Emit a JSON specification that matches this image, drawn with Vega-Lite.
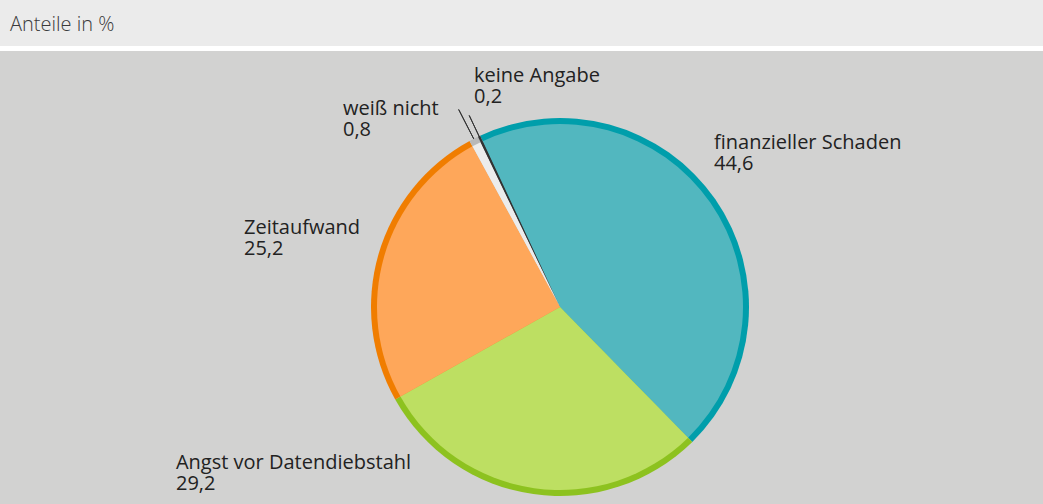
{
  "$schema": "https://vega.github.io/schema/vega-lite/v6.json",
  "background": "white",
  "padding": 0,
  "spacing": 5,
  "config": {"view": {"stroke": null}, "font": "Open Sans"},
  "datasets": {
    "anteile": [
      {"Nr": 1, "Kategorie": "finanzieller Schaden", "Anteil": 44.6, "Beschriftung": "finanzieller Schaden\n44,6"},
      {"Nr": 2, "Kategorie": "Angst vor Datendiebstahl", "Anteil": 29.2, "Beschriftung": "Angst vor Datendiebstahl\n29,2"},
      {"Nr": 3, "Kategorie": "Zeitaufwand", "Anteil": 25.2, "Beschriftung": "Zeitaufwand\n25,2"},
      {"Nr": 4, "Kategorie": "weiß nicht", "Anteil": 0.8, "Beschriftung": "weiß nicht\n0,8"},
      {"Nr": 5, "Kategorie": "keine Angabe", "Anteil": 0.2, "Beschriftung": "keine Angabe\n0,2"}
    ]
  },
  "vconcat": [
    {
      "width": 1043,
      "height": 46,
      "view": {"fill": "#ebebeb", "stroke": null},
      "title": {"text": "Anteile in %", "anchor": "start", "orient": "top", "offset": -51, "dx": 10, "baseline": "alphabetic", "fontSize": 20, "fontWeight": 300, "color": "#3a3a3a", "font": "Open Sans"},
      "data": {"values": [{}]},
      "mark": {"type": "text"},
      "encoding": {"text": {"value": ""}}
    },
    {
      "width": 1043,
      "height": 453,
      "view": {"fill": "#d2d2d1", "stroke": null},
      "data": {"name": "anteile"},
      "encoding": {
        "theta": {"field": "Anteil", "type": "quantitative", "stack": true, "scale": {"range": [-0.4363, 5.8469]}},
        "order": {"field": "Nr", "type": "quantitative"}
      },
      "layer": [
        {
          "mark": {"type": "arc", "radius": 189, "x": 560, "y": 256},
          "encoding": {
            "fill": {"field": "Kategorie", "type": "nominal", "legend": null,
              "scale": {"domain": ["finanzieller Schaden", "Angst vor Datendiebstahl", "Zeitaufwand", "weiß nicht", "keine Angabe"],
                        "range": ["#009eab", "#8dc21f", "#f07d00", "#b9b9b9", "#333333"]}}
          }
        },
        {
          "mark": {"type": "arc", "radius": 183, "x": 560, "y": 256},
          "encoding": {
            "color": {"field": "Kategorie", "type": "nominal", "legend": null,
              "scale": {"domain": ["finanzieller Schaden", "Angst vor Datendiebstahl", "Zeitaufwand", "weiß nicht", "keine Angabe"],
                        "range": ["#52b7bf", "#bddf62", "#fea75a", "#ececec", "#333333"]}}
          }
        },
        {
          "mark": {"type": "arc", "radius": 222, "radius2": 189, "padAngle": 0.3, "fill": null, "stroke": "#333333", "strokeWidth": 1, "x": 560, "y": 256},
          "encoding": {
            "strokeOpacity": {"condition": {"test": "datum.Kategorie === 'weiß nicht'", "value": 1}, "value": 0}
          }
        },
        {
          "mark": {"type": "arc", "radius": 212, "radius2": 188, "padAngle": 0.3, "fill": null, "stroke": "#333333", "strokeWidth": 1, "x": 560, "y": 256},
          "encoding": {
            "strokeOpacity": {"condition": {"test": "datum.Kategorie === 'keine Angabe'", "value": 1}, "value": 0}
          }
        },
        {
          "transform": [
            {"stack": "Anteil", "groupby": [], "sort": [{"field": "Nr", "order": "ascending"}], "as": ["Anfang", "Ende"]},
            {"filter": "datum.Kategorie === 'finanzieller Schaden'"}
          ],
          "mark": {"type": "text", "radius": 205, "dx": 240.6, "dy": 27.8, "align": "left", "baseline": "alphabetic", "lineBreak": "\n", "lineHeight": 21, "fontSize": 20, "color": "#222222", "x": 560, "y": 256},
          "encoding": {"theta": {"field": "Anfang", "type": "quantitative", "stack": null}, "text": {"field": "Beschriftung"}}
        },
        {
          "transform": [
            {"stack": "Anteil", "groupby": [], "sort": [{"field": "Nr", "order": "ascending"}], "as": ["Anfang", "Ende"]},
            {"filter": "datum.Kategorie === 'Angst vor Datendiebstahl'"}
          ],
          "mark": {"type": "text", "radius": 205, "dx": -205.3, "dy": 61.6, "align": "left", "baseline": "alphabetic", "lineBreak": "\n", "lineHeight": 21, "fontSize": 20, "color": "#222222", "x": 560, "y": 256},
          "encoding": {"theta": {"field": "Ende", "type": "quantitative", "stack": null}, "text": {"field": "Beschriftung"}}
        },
        {
          "transform": [
            {"stack": "Anteil", "groupby": [], "sort": [{"field": "Nr", "order": "ascending"}], "as": ["Anfang", "Ende"]},
            {"filter": "datum.Kategorie === 'Zeitaufwand'"}
          ],
          "mark": {"type": "text", "radius": 205, "dx": -137.3, "dy": -173.4, "align": "left", "baseline": "alphabetic", "lineBreak": "\n", "lineHeight": 21, "fontSize": 20, "color": "#222222", "x": 560, "y": 256},
          "encoding": {"theta": {"field": "Anfang", "type": "quantitative", "stack": null}, "text": {"field": "Beschriftung"}}
        },
        {
          "transform": [
            {"stack": "Anteil", "groupby": [], "sort": [{"field": "Nr", "order": "ascending"}], "as": ["Anfang", "Ende"]},
            {"filter": "datum.Kategorie === 'weiß nicht'"}
          ],
          "mark": {"type": "text", "radius": 205, "dx": -118.9, "dy": -12, "align": "left", "baseline": "alphabetic", "lineBreak": "\n", "lineHeight": 21, "fontSize": 20, "color": "#222222", "x": 560, "y": 256},
          "encoding": {"theta": {"field": "Anfang", "type": "quantitative", "stack": null}, "text": {"field": "Beschriftung"}}
        },
        {
          "transform": [
            {"stack": "Anteil", "groupby": [], "sort": [{"field": "Nr", "order": "ascending"}], "as": ["Anfang", "Ende"]},
            {"filter": "datum.Kategorie === 'keine Angabe'"}
          ],
          "mark": {"type": "text", "radius": 205, "dx": 3, "dy": -40.3, "align": "left", "baseline": "alphabetic", "lineBreak": "\n", "lineHeight": 21, "fontSize": 20, "color": "#222222", "x": 560, "y": 256},
          "encoding": {"theta": {"field": "Anfang", "type": "quantitative", "stack": null}, "text": {"field": "Beschriftung"}}
        }
      ]
    }
  ]
}
